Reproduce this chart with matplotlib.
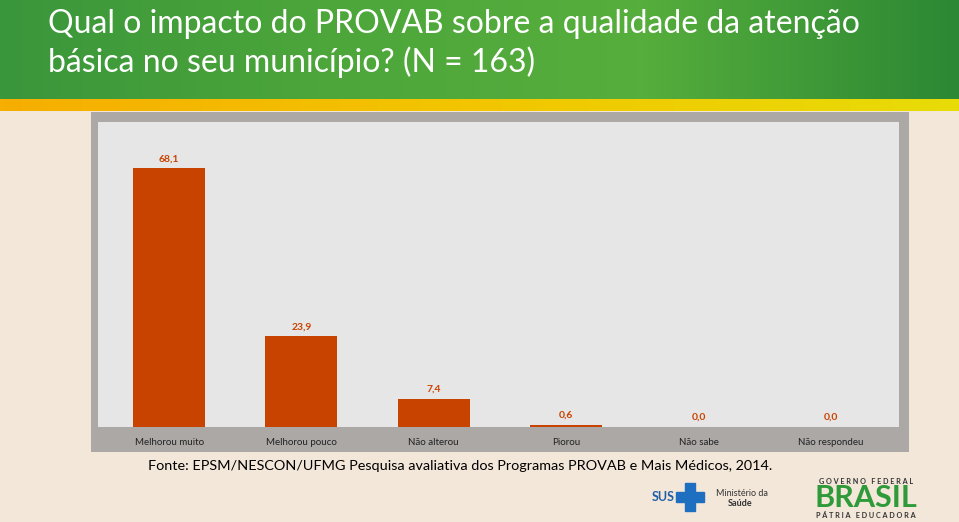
import matplotlib.pyplot as plt
import numpy as np
from matplotlib.patches import Rectangle

categorias = ['Melhorou muito', 'Melhorou pouco', 'Não alterou', 'Piorou', 'Não sabe', 'Não respondeu']
valores = [68.1, 23.9, 7.4, 0.6, 0.0, 0.0]
rotulos = ['68,1', '23,9', '7,4', '0,6', '0,0', '0,0']

titulo = 'Qual o impacto do PROVAB sobre a qualidade da atenção\nbásica no seu município? (N = 163)'
fonte = 'Fonte: EPSM/NESCON/UFMG Pesquisa avaliativa dos Programas PROVAB e Mais Médicos, 2014.'

plt.rcParams['font.family'] = ['Lato', 'DejaVu Sans']

W, H = 959, 522
fig = plt.figure(figsize=(W / 100, H / 100), dpi=100)
fig.patch.set_facecolor('#f3e7d9')

def px(x0, y0, x1, y1):
    # caixa em pixels (origem em cima) -> coordenadas da figura
    return [x0 / W, 1 - y1 / H, (x1 - x0) / W, (y1 - y0) / H]

def degrade(cores, n=256):
    cores = [np.array(c) / 255 for c in cores]
    out = np.zeros((1, n, 3))
    seg = len(cores) - 1
    for i, t in enumerate(np.linspace(0, 1, n)):
        k = min(int(t * seg), seg - 1)
        f = t * seg - k
        out[0, i] = cores[k] + (cores[k + 1] - cores[k]) * f
    return out

# cabeçalho verde com degradê
ax_h = fig.add_axes(px(0, 0, W, 99))
ax_h.imshow(degrade([(0x3a, 0x96, 0x3a), (0x4c, 0xa6, 0x3a), (0x56, 0xae, 0x3c), (0x2c, 0x88, 0x34)]),
            aspect='auto', extent=[0, 1, 0, 1])
ax_h.axis('off')

# faixa amarela
ax_y = fig.add_axes(px(0, 99, W, 111))
ax_y.imshow(degrade([(0xf6, 0xae, 0x00), (0xf2, 0xc6, 0x00), (0xe8, 0xdc, 0x08)]),
            aspect='auto', extent=[0, 1, 0, 1])
ax_y.axis('off')

fig.text(48 / W, 1 - 9 / H, titulo, color='white', fontsize=23, va='top', ha='left',
         linespacing=1.3)

# moldura cinza
ax_f = fig.add_axes(px(91, 112, 909, 452))
ax_f.set_facecolor('#aba8a6')
ax_f.set_xticks([])
ax_f.set_yticks([])
for s in ax_f.spines.values():
    s.set_visible(False)

ax = fig.add_axes(px(98, 122, 899, 427))
ax.set_facecolor('#e6e6e6')
x = np.arange(len(categorias))
ax.bar(x, valores, width=0.545, color='#c94300')
for xi, v, r in zip(x, valores, rotulos):
    ax.text(xi, v + 1.3, r, ha='center', va='bottom', color='#c94300', fontsize=7.5, fontweight='bold')
ax.set_xlim(-0.537, 5.515)
ax.set_ylim(0, 80.3)
ax.set_yticks([])
ax.set_xticks(x)
ax.set_xticklabels(categorias, fontsize=7, color='#222222')
ax.tick_params(axis='x', length=0, pad=8)
for s in ax.spines.values():
    s.set_visible(False)

fig.text(148 / W, 1 - 466 / H, fonte, fontsize=10.4, va='center', ha='left', color='black')

# logotipos (simplificados, em texto)
fig.text(652 / W, 1 - 497 / H, 'SUS', fontsize=9, fontweight='bold', color='#1f5fa8', va='center')
fig.patches.append(Rectangle((676 / W, 1 - 502 / H), 28 / W, 10 / H, transform=fig.transFigure, color='#1f6fc0'))
fig.patches.append(Rectangle((685 / W, 1 - 511 / H), 10 / W, 28 / H, transform=fig.transFigure, color='#1f6fc0'))
fig.text(716 / W, 1 - 493 / H, 'Ministério da', fontsize=6.5, color='#333333', va='center')
fig.text(728 / W, 1 - 504 / H, 'Saúde', fontsize=6.5, fontweight='bold', color='#333333', va='center')
fig.text(866 / W, 1 - 481 / H, 'G O V E R N O   F E D E R A L', fontsize=5.2, fontweight='bold',
         color='#333333', ha='center', va='center')
fig.text(866 / W, 1 - 498 / H, 'BRASIL', fontsize=22, fontweight='bold', color='#2e9a3a',
         ha='center', va='center')
fig.text(866 / W, 1 - 516 / H, 'P Á T R I A   E D U C A D O R A', fontsize=5.2, fontweight='bold',
         color='#333333', ha='center', va='center')

fig.savefig('out.png', dpi=100, facecolor=fig.get_facecolor())
